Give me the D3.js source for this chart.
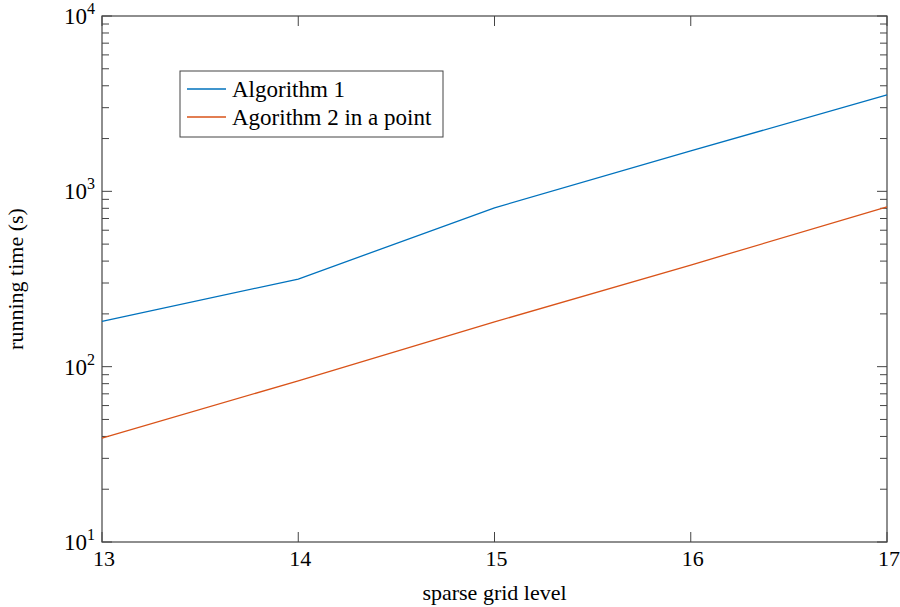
<!DOCTYPE html>
<html>
<head>
<meta charset="utf-8">
<script src="https://cdn.jsdelivr.net/npm/d3@7"></script>
<style>
  html, body { margin: 0; padding: 0; background: #fff; }
  svg text { font-family: "Liberation Serif", "DejaVu Serif", serif; }
</style>
</head>
<body>
<svg id="chart" width="900" height="607"></svg>
<script>
// Sparse grid levels and measured running times (seconds)
const levels = [13, 14, 15, 16, 17];
const algorithm1 = [181, 316, 805, 1700, 3550];
const algorithm2 = [39.1, 83, 180, 380, 815];
const seriesNames = ["Algorithm 1", "Agorithm 2 in a point"];
const seriesColors = ["#0072BD", "#D95319"];
const xTicks = [13, 14, 15, 16, 17];
const yExponents = [1, 2, 3, 4];

const FONT = "Liberation Serif, DejaVu Serif, serif";
const svg = d3.select("#chart");
const margin = { left: 102, right: 13, top: 16, bottom: 65 };
const W = 900, H = 607;
const x0 = margin.left, x1 = W - margin.right;
const y0 = H - margin.bottom, y1 = margin.top;

const x = d3.scaleLinear().domain([13, 17]).range([x0, x1]);
const y = d3.scaleLog().domain([10, 10000]).range([y0, y1]);

const axisColor = "#444";
const g = svg.append("g").attr("font-family", FONT);

// minor and major ticks on y (left and right, pointing inward)
const minorVals = [];
for (let e = 1; e < 4; e++) for (let m = 2; m <= 9; m++) minorVals.push(m * Math.pow(10, e));
minorVals.forEach(v => {
  g.append("line").attr("x1", x0).attr("x2", x0 + 7).attr("y1", y(v)).attr("y2", y(v))
    .attr("stroke", axisColor).attr("stroke-width", 1);
  g.append("line").attr("x1", x1).attr("x2", x1 - 7).attr("y1", y(v)).attr("y2", y(v))
    .attr("stroke", axisColor).attr("stroke-width", 1);
});
yExponents.forEach(e => {
  const v = Math.pow(10, e);
  g.append("line").attr("x1", x0).attr("x2", x0 + 10).attr("y1", y(v)).attr("y2", y(v))
    .attr("stroke", axisColor).attr("stroke-width", 1);
  g.append("line").attr("x1", x1).attr("x2", x1 - 10).attr("y1", y(v)).attr("y2", y(v))
    .attr("stroke", axisColor).attr("stroke-width", 1);
  const t = g.append("text").attr("x", 95).attr("y", y(v) + 8)
    .attr("text-anchor", "end").attr("font-size", 23).attr("fill", "#000");
  t.append("tspan").text("10");
  t.append("tspan").attr("dy", -10).attr("font-size", 16).text(e);
});

// x ticks (bottom and top, pointing inward)
xTicks.forEach(v => {
  g.append("line").attr("x1", x(v)).attr("x2", x(v)).attr("y1", y0).attr("y2", y0 - 10)
    .attr("stroke", axisColor).attr("stroke-width", 1);
  g.append("line").attr("x1", x(v)).attr("x2", x(v)).attr("y1", y1).attr("y2", y1 + 10)
    .attr("stroke", axisColor).attr("stroke-width", 1);
  g.append("text").attr("x", x(v) + 2).attr("y", y0 + 24).attr("text-anchor", "middle")
    .attr("font-size", 22).attr("fill", "#000").text(v);
});

// frame
g.append("rect").attr("x", x0).attr("y", y1).attr("width", x1 - x0).attr("height", y0 - y1)
  .attr("fill", "none").attr("stroke", axisColor).attr("stroke-width", 1.2);

// data lines
const line = d3.line().x((d, i) => x(levels[i])).y(d => y(d));
[algorithm1, algorithm2].forEach((s, i) => {
  g.append("path").attr("d", line(s)).attr("fill", "none")
    .attr("stroke", seriesColors[i]).attr("stroke-width", 1.3);
});

// axis labels
g.append("text").attr("x", (x0 + x1) / 2).attr("y", 600).attr("text-anchor", "middle")
  .attr("font-size", 22).attr("fill", "#000").text("sparse grid level");
g.append("text").attr("transform", `translate(23,${(y0 + y1) / 2}) rotate(-90)`)
  .attr("text-anchor", "middle").attr("font-size", 22).attr("fill", "#000").text("running time (s)");

// legend
const lg = g.append("g");
lg.append("rect").attr("x", 180).attr("y", 71).attr("width", 263).attr("height", 66)
  .attr("fill", "#fff").attr("stroke", axisColor).attr("stroke-width", 1);
seriesNames.forEach((name, i) => {
  const yy = 89 + i * 28;
  lg.append("line").attr("x1", 187).attr("x2", 226).attr("y1", yy).attr("y2", yy)
    .attr("stroke", seriesColors[i]).attr("stroke-width", 1.3);
  lg.append("text").attr("x", 232).attr("y", yy + 8).attr("font-size", 23)
    .attr("fill", "#000").text(name);
});
</script>
</body>
</html>
